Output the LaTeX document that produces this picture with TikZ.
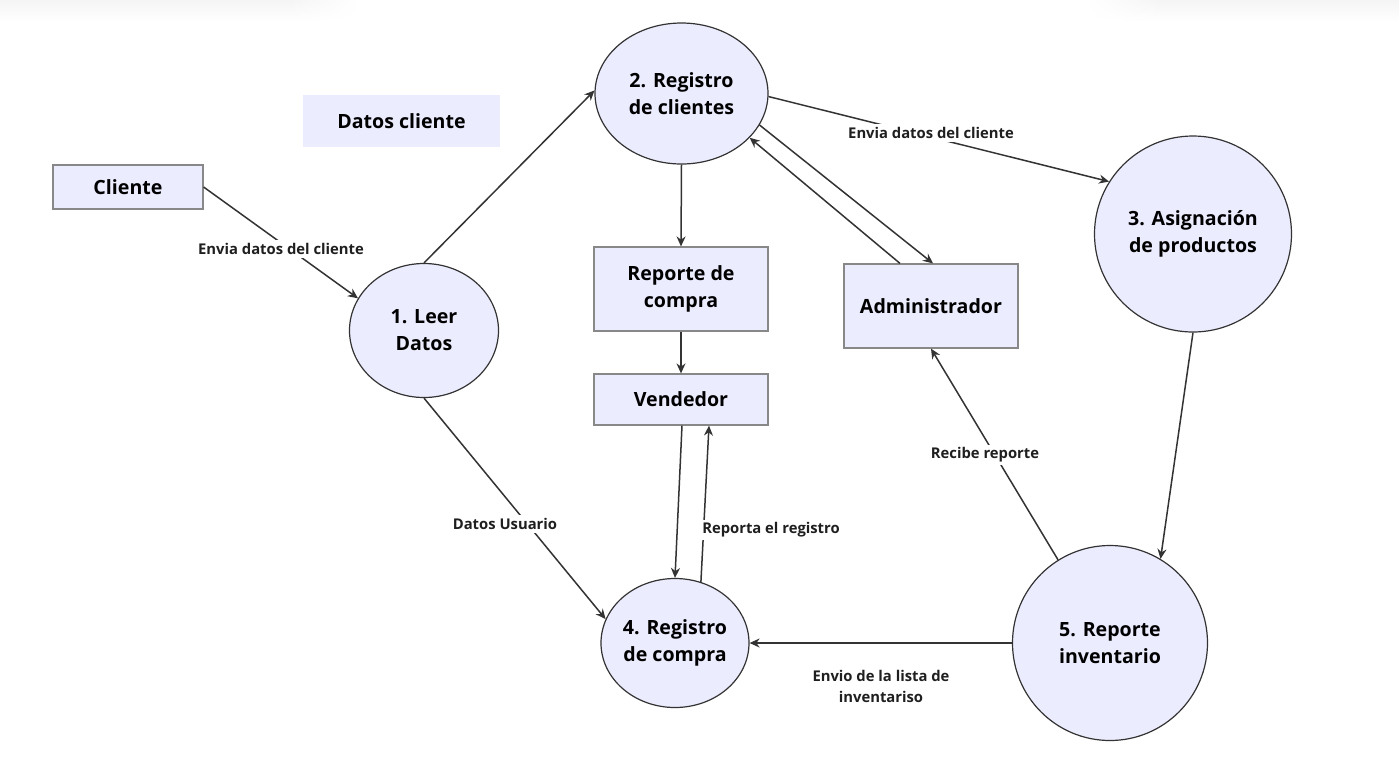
\documentclass[tikz,border=0pt]{standalone}
\usepackage{fontspec}
\setmainfont{Open Sans}
\usetikzlibrary{shapes.geometric,arrows.meta,fadings}
\definecolor{nodefill}{HTML}{ECECFF}
\definecolor{linec}{HTML}{333333}
\definecolor{boxline}{HTML}{888888}
\newcommand\nodefnt{\fontsize{9.8}{13.5}\selectfont\bfseries}
\newcommand\labfnt{\fontsize{7.4}{10.5}\selectfont\bfseries}
\tikzfading[name=fadeR, left color=transparent!0, right color=transparent!100]
\tikzfading[name=fadeL, left color=transparent!100, right color=transparent!0]
\begin{document}
\begin{tikzpicture}[x=0.5pt,y=-0.5pt,
  box/.style={draw=boxline, fill=nodefill, line width=0.6pt, inner sep=0pt, font=\nodefnt, align=center},
  proc/.style={ellipse, draw=linec, fill=nodefill, line width=0.6pt, inner sep=0pt, font=\nodefnt, align=center},
  flow/.style={draw=linec, line width=0.75pt, -{Stealth[length=5pt,width=4.5pt]}},
  lab/.style={fill=white, inner sep=1.5pt, font=\labfnt, align=center, text=black!88},
  topshade/.style={top color=black!4, bottom color=white}]
\useasboundingbox (0,0) rectangle (1399,757);
\shade[topshade] (0,0) rectangle (290,22);
\shade[topshade, path fading=fadeR] (290,0) rectangle (360,22);
\shade[topshade, path fading=fadeL] (1085,0) rectangle (1160,22);
\shade[topshade] (1160,0) rectangle (1399,22);

\node[box, minimum width=75pt, minimum height=22pt] (cli) at (128,187) {Cliente};
\node[box, draw=none, minimum width=98.5pt, minimum height=26pt] (dc) at (401.5,121) {Datos cliente};
\node[proc, minimum width=74.5pt, minimum height=67pt] (leer) at (424,330.5) {1. Leer\\Datos};
\node[proc, minimum width=86.5pt, minimum height=70.5pt] (regc) at (681.5,93.5) {2. Registro\\de clientes};
\node[proc, minimum width=98.5pt, minimum height=98pt] (asig) at (1193,234) {3. Asignación\\de productos};
\node[box, minimum width=87pt, minimum height=42pt] (rep) at (681,289) {Reporte de\\compra};
\node[box, minimum width=87pt, minimum height=25.5pt] (vend) at (681,399.5) {Vendedor};
\node[box, minimum width=87pt, minimum height=42pt] (adm) at (931,306) {Administrador};
\node[proc, minimum width=74pt, minimum height=64.5pt] (rc) at (675,643) {4. Registro\\de compra};
\node[proc, minimum width=97.5pt, minimum height=97.5pt] (inv) at (1110,643) {5. Reporte\\inventario};

\draw[flow] (cli.east) -- (leer.154);
\draw[flow] (leer.north) -- (regc.178);
\draw[flow] (regc.south) -- (rep.north);
\draw[flow] (rep.south) -- (vend.north);
\draw[flow] (regc.-22) -- ([xshift=1pt]adm.north);
\draw[flow] ([xshift=-15.5pt]adm.north) -- (regc.-33);
\draw[flow] (regc.-2) -- (asig.148);
\draw[flow] (asig.south) -- (inv.59);
\draw[flow] (inv.122) -- (adm.south);
\draw[flow] (inv.west) -- (rc.east);
\draw[flow] (leer.south) -- (rc.161);
\draw[flow] ([xshift=0.5pt]vend.south) -- (rc.north);
\draw[flow] (rc.67.5) -- ([xshift=14pt]vend.south);

\node[lab] (l1) at (281,249) {Envia datos del cliente};
\node[lab] (l2) at (931,133) {Envia datos del cliente};
\node[lab] (l3) at (505,524) {Datos Usuario};
\node[lab] (l4) at (771,530) {Reporta el registro};
\node[lab] (l5) at (985,455) {Recibe reporte};
\node[lab] (l6) at (881,686) {Envio de la lista de\\inventariso};
\end{tikzpicture}
\end{document}
